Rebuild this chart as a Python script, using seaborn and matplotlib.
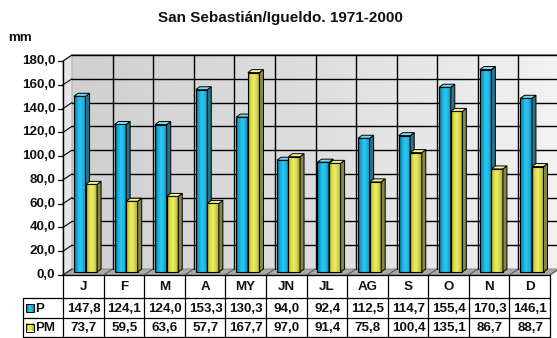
import numpy as np
import pandas as pd
import matplotlib
matplotlib.use("Agg")
import matplotlib.pyplot as plt
import seaborn as sns
from matplotlib.patches import Polygon, Rectangle
from matplotlib.transforms import ScaledTranslation, IdentityTransform
from matplotlib.colors import to_rgb

# ---- data -------------------------------------------------------------
months = ["J", "F", "M", "A", "MY", "JN", "JL", "AG", "S", "O", "N", "D"]
p_mm = [147.8, 124.1, 124.0, 153.3, 130.3, 94.0, 92.4, 112.5, 114.7, 155.4, 170.3, 146.1]
pm_mm = [73.7, 59.5, 63.6, 57.7, 167.7, 97.0, 91.4, 75.8, 100.4, 135.1, 86.7, 88.7]
series = ["P", "PM"]
y_ticks = [0, 20, 40, 60, 80, 100, 120, 140, 160, 180]
title = "San Sebastián/Igueldo. 1971-2000"
unit = "mm"

sns.set_theme(style="white")
plt.rcParams["font.family"] = ["Liberation Sans", "DejaVu Sans"]
plt.rcParams["font.weight"] = "bold"

FS = 9.6


def fmt(v):
    return f"{v:.1f}".replace(".", ",")


# colour ramps (across each bar face) and side/top shades
ramps = {
    "P": ["#086582", "#15a8d6", "#2cc8f2", "#1fb6e4", "#0a88b2"],
    "PM": ["#9a9a2a", "#dcdc48", "#eeee66", "#d2d246", "#a2a232"],
}
side_col = {"P": "#2d7186", "PM": "#85854c"}
top_col = {"P": "#7adcf4", "PM": "#f4f490"}


def ramp_image(stops, n=64):
    cols = np.array([to_rgb(c) for c in stops])
    pos = np.linspace(0, 1, len(stops))
    t = np.linspace(0, 1, n)
    img = np.stack([np.interp(t, pos, cols[:, k]) for k in range(3)], axis=-1)
    return img[np.newaxis, :, :]


W, H = 557, 338
DPI = 100
fig = plt.figure(figsize=(W / DPI, H / DPI), dpi=DPI)
fig.patch.set_facecolor("white")

# background layer in pixel coordinates (walls, grid, table)
bg = fig.add_axes([0, 0, 1, 1], zorder=0)
bg.set_xlim(0, W)
bg.set_ylim(H, 0)
bg.axis("off")

# front plane of the plot
X0, X1 = 63, 550
Y0, Y1 = 275, 61
ax = fig.add_axes([X0 / W, 1 - Y0 / H, (X1 - X0) / W, (Y0 - Y1) / H], zorder=2)
ax.patch.set_alpha(0)

df = pd.DataFrame({
    "month": months * 2,
    "mm": p_mm + pm_mm,
    "serie": ["P"] * len(months) + ["PM"] * len(months),
})
sns.barplot(data=df, x="month", y="mm", hue="serie", order=months,
            hue_order=series, palette=["#1fb5e0", "#e6e650"], width=0.57,
            saturation=1, errorbar=None, legend=False, ax=ax,
            edgecolor="black", linewidth=0.8)
ax.set_xlim(-0.5, len(months) - 0.5)
ax.set_ylim(0, 180)
ax.axis("off")

DX, DY = 9, -6          # depth of the box, pixels (y down)
BDX, BDY = 4, -3         # depth of each column, pixels


def to_px(x, y, shift=(0, 0)):
    d = ax.transData.transform((x, y))
    return d[0] + shift[0], H - d[1] + shift[1]


xl, xr = -0.5, len(months) - 0.5
ymax = y_ticks[-1]
back = (DX, DY)

# back wall with horizontal shading
bl = to_px(xl, 0, back)
tr_ = to_px(xr, ymax, back)
wall = ramp_image(["#d0d0d0", "#dedede", "#f2f2f2"])
bg.imshow(wall, extent=[bl[0], tr_[0], bl[1], tr_[1]], aspect="auto",
          interpolation="bilinear", zorder=0.5)
bg.plot([bl[0], tr_[0]], [tr_[1], tr_[1]], color="#9a9a9a", lw=1.5, zorder=1.5)

# left side wall
side = [to_px(xl, 0), to_px(xl, ymax), to_px(xl, ymax, back), to_px(xl, 0, back)]
bg.add_patch(Polygon(side, closed=True, facecolor="#e6e6e6", edgecolor="#b0b0b0",
                     lw=0.8, zorder=1))

# floor
floor = [to_px(xl, 0), to_px(xr, 0), to_px(xr, 0, back), to_px(xl, 0, back)]
bg.add_patch(Polygon(floor, closed=True, facecolor="#a9a9a9", edgecolor="#808080",
                     lw=0.6, zorder=1))

# gridlines: back wall and side wall (horizontal), back wall and floor (vertical)
for yv in y_ticks:
    a, b = to_px(xl, yv, back), to_px(xr, yv, back)
    if yv > 0:
        bg.plot([a[0], b[0]], [a[1], b[1]], color="black", lw=1.0, zorder=2)
    f = to_px(xl, yv)
    bg.plot([f[0], a[0]], [f[1], a[1]], color="black", lw=0.8, zorder=2)
    # tick mark and label
    bg.plot([f[0] - 5, f[0]], [f[1], f[1]], color="black", lw=0.9, zorder=2)
    bg.text(f[0] - 7.5, f[1], fmt(yv), ha="right", va="center", fontsize=FS,
            fontweight="bold", color="#111111")
for k in range(len(months) + 1):
    xv = xl + k
    a, b = to_px(xv, 0, back), to_px(xv, ymax, back)
    if 0 < k < len(months):
        bg.plot([a[0], b[0]], [a[1], b[1]], color="black", lw=1.0, zorder=2)
    f = to_px(xv, 0)
    bg.plot([f[0], a[0]], [f[1], a[1]], color="#505050", lw=0.7, zorder=2)

# value axis line
a, b = to_px(xl, 0), to_px(xl, ymax)
bg.plot([a[0], b[0]], [a[1], b[1]], color="black", lw=1.0, zorder=2.5)

# columns: shading, side and top faces
bar_shift = ScaledTranslation(2.25 / DPI, 3 / DPI, fig.dpi_scale_trans)
bar_tr = ax.transData + bar_shift
for i, (container, name) in enumerate(zip(ax.containers, series)):
    z = 3 + i
    img = ramp_image(ramps[name])
    for patch in container:
        x, w, h = patch.get_x(), patch.get_width(), patch.get_height()
        patch.set_transform(bar_tr)
        patch.set_facecolor("none")
        patch.set_zorder(z + 0.2)
        im = ax.imshow(img, extent=[x, x + w, 0, h], aspect="auto",
                       interpolation="bilinear", zorder=z, transform=bar_tr)
        im.set_clip_path(patch)
        (lx, by), (rx, ty) = bar_tr.transform([(x, 0), (x + w, h)])
        s = [(rx, by), (rx, ty), (rx + BDX, ty - BDY), (rx + BDX, by - BDY)]
        t = [(lx, ty), (rx, ty), (rx + BDX, ty - BDY), (lx + BDX, ty - BDY)]
        ax.add_patch(Polygon(s, closed=True, facecolor=side_col[name],
                             edgecolor="black", lw=0.7, zorder=z + 0.3,
                             transform=IdentityTransform(), clip_on=False))
        ax.add_patch(Polygon(t, closed=True, facecolor=top_col[name],
                             edgecolor="black", lw=0.7, zorder=z + 0.4,
                             transform=IdentityTransform(), clip_on=False))
ax.set_xlim(-0.5, len(months) - 0.5)
ax.set_ylim(0, 180)

# data table under the plot
edges = [to_px(xl + k, 0)[0] for k in range(len(months) + 1)]
ytop = to_px(xl, 0)[1]
rows = [ytop, 298, 318, 337]
key_left = 23
lc = dict(color="black", lw=0.9, zorder=3)
bg.plot([edges[0], edges[-1]], [rows[0], rows[0]], **lc)
for yv in rows[1:]:
    bg.plot([key_left, edges[-1]], [yv, yv], **lc)
for xv in edges:
    bg.plot([xv, xv], [rows[0], rows[-1]], **lc)
bg.plot([key_left, key_left], [rows[1], rows[-1]], **lc)

for k, m in enumerate(months):
    cx = (edges[k] + edges[k + 1]) / 2
    bg.text(cx, (rows[0] + rows[1]) / 2 + 0.5, m, ha="center", va="center",
            fontsize=FS, fontweight="bold", color="#111111")
    for r, vals in enumerate([p_mm, pm_mm]):
        bg.text(cx + 0.5, (rows[r + 1] + rows[r + 2]) / 2 + 0.5, fmt(vals[k]),
                ha="center", va="center", fontsize=FS, fontweight="bold",
                color="#111111")

for r, name in enumerate(series):
    yc = (rows[r + 1] + rows[r + 2]) / 2
    key = ramp_image(ramps[name])
    bg.imshow(key, extent=[25.5, 33.5, yc + 4, yc - 4], aspect="auto",
              interpolation="bilinear", zorder=3)
    bg.add_patch(Rectangle((25.5, yc - 4), 8, 8, facecolor="none",
                           edgecolor="black", lw=0.7, zorder=3.2))
    bg.text(35.5, yc + 0.5, name, ha="left", va="center", fontsize=FS,
            fontweight="bold", color="#111111")

bg.set_xlim(0, W)
bg.set_ylim(H, 0)

fig.text(280 / W, 1 - 18 / H, title, ha="center", va="center", fontsize=11,
         fontweight="bold", color="#111111")
fig.text(8 / W, 1 - 38 / H, unit, ha="left", va="center", fontsize=FS,
         fontweight="bold", color="#111111")

fig.savefig("out.png", dpi=DPI, facecolor="white")
